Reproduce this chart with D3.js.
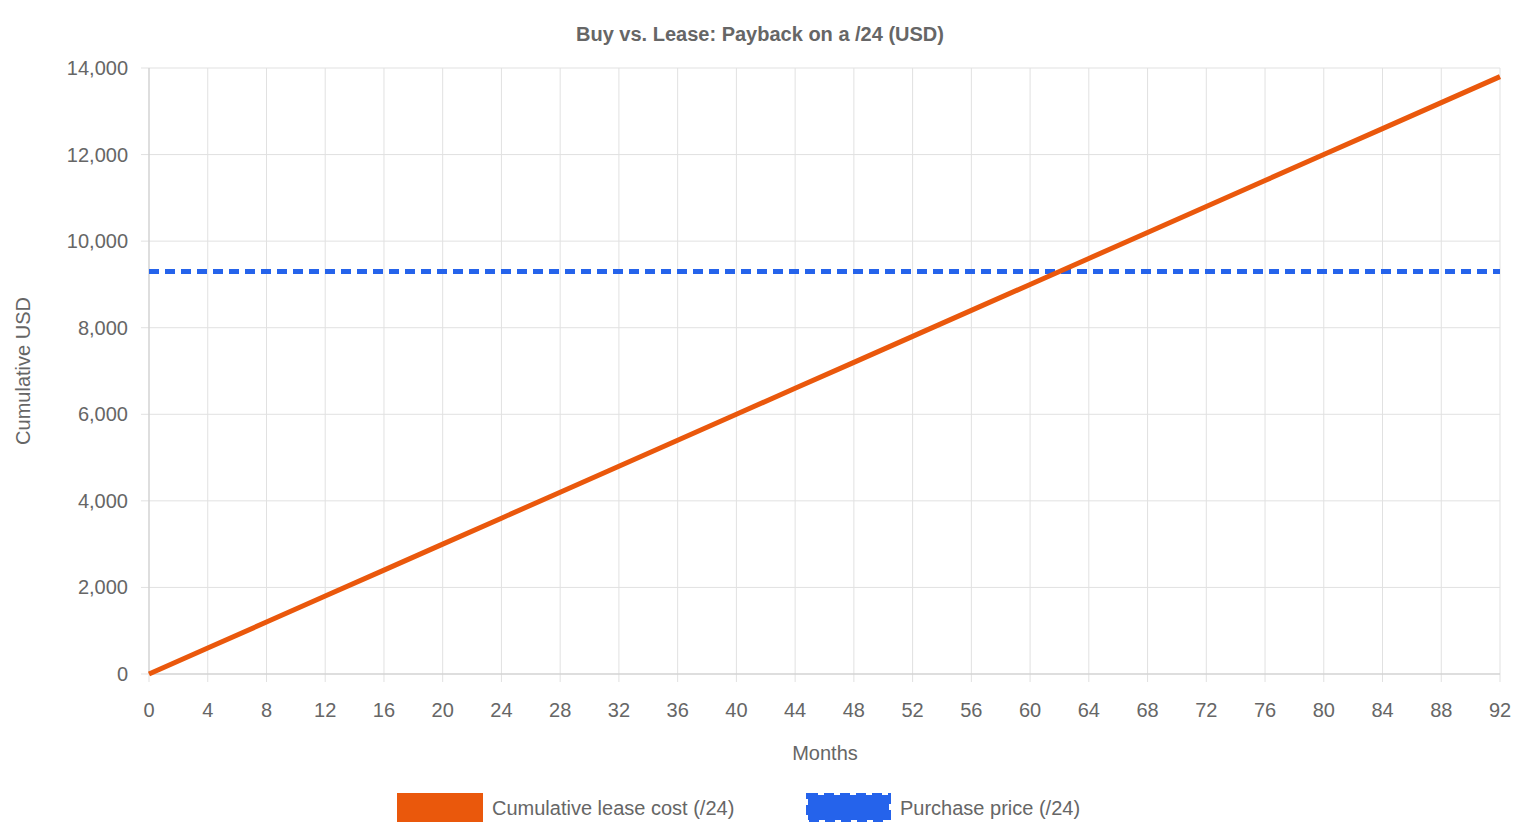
<!DOCTYPE html>
<html><head><meta charset="utf-8">
<script src="https://cdn.jsdelivr.net/npm/d3@7"></script>
<style>body{margin:0;background:#fff}svg{font-family:"Liberation Sans",Arial,sans-serif}</style>
</head><body><svg id="c" width="1520" height="840"></svg>
<script>
const months = [0,4,8,12,16,20,24,28,32,36,40,44,48,52,56,60,64,68,72,76,80,84,88,92];
const leaseCost = [0,600,1200,1800,2400,3000,3600,4200,4800,5400,6000,6600,7200,7800,8400,9000,9600,10200,10800,11400,12000,12600,13200,13800];
const purchasePrice = [9300,9300,9300,9300,9300,9300,9300,9300,9300,9300,9300,9300,9300,9300,9300,9300,9300,9300,9300,9300,9300,9300,9300,9300];
const yTicks = [0,2000,4000,6000,8000,10000,12000,14000];
const title = "Buy vs. Lease: Payback on a /24 (USD)";
const seriesNames = ["Cumulative lease cost (/24)","Purchase price (/24)"];

const svg = d3.select("#c");
const L=149,R=1500,T=68,B=674;
const x=d3.scaleLinear().domain([0,92]).range([L,R]);
const y=d3.scaleLinear().domain([0,14000]).range([B,T]);
const grid="#e1e1e1", txt="#666";

// grid
svg.append("g").selectAll("line").data(months).join("line")
 .attr("x1",d=>x(d)).attr("x2",d=>x(d)).attr("y1",T).attr("y2",B+8).attr("stroke",grid);
svg.append("g").selectAll("line").data(yTicks).join("line")
 .attr("x1",L-8).attr("x2",R).attr("y1",d=>y(d)).attr("y2",d=>y(d)).attr("stroke",grid);
svg.append("line").attr("x1",L).attr("x2",L).attr("y1",T).attr("y2",B).attr("stroke","#ccc");
svg.append("line").attr("x1",L).attr("x2",R).attr("y1",B).attr("y2",B).attr("stroke","#ccc");

svg.append("g").selectAll("text").data(months).join("text")
 .attr("x",d=>x(d)).attr("y",717).attr("text-anchor","middle").attr("fill",txt).attr("font-size",20).text(d=>d);
svg.append("g").selectAll("text").data(yTicks).join("text")
 .attr("x",L-21).attr("y",d=>y(d)+7).attr("text-anchor","end").attr("fill",txt).attr("font-size",20).text(d3.format(","));

svg.append("text").attr("x",825).attr("y",760).attr("text-anchor","middle").attr("fill",txt).attr("font-size",20).text("Months");
svg.append("text").attr("transform","translate(30,371) rotate(-90)").attr("text-anchor","middle").attr("fill",txt).attr("font-size",20).text("Cumulative USD");
svg.append("text").attr("x",760).attr("y",41).attr("text-anchor","middle").attr("fill",txt).attr("font-size",20).attr("font-weight","bold").text(title);

const line=d3.line().x((d,i)=>x(months[i])).y(d=>y(d));
svg.append("path").attr("d",line(purchasePrice)).attr("fill","none").attr("stroke","#2563eb").attr("stroke-width",5).attr("stroke-dasharray","10,6");
svg.append("path").attr("d",line(leaseCost)).attr("fill","none").attr("stroke","#ea580c").attr("stroke-width",5);

// legend
svg.append("rect").attr("x",397).attr("y",793).attr("width",86).attr("height",29).attr("fill","#ea580c");
svg.append("text").attr("x",492).attr("y",815).attr("fill",txt).attr("font-size",20).text(seriesNames[0]);
svg.append("rect").attr("x",808).attr("y",795).attr("width",81).attr("height",25).attr("fill","#2563eb").attr("stroke","#2563eb").attr("stroke-width",4).attr("stroke-dasharray","10,6");
svg.append("text").attr("x",900).attr("y",815).attr("fill",txt).attr("font-size",20).text(seriesNames[1]);
</script></body></html>
